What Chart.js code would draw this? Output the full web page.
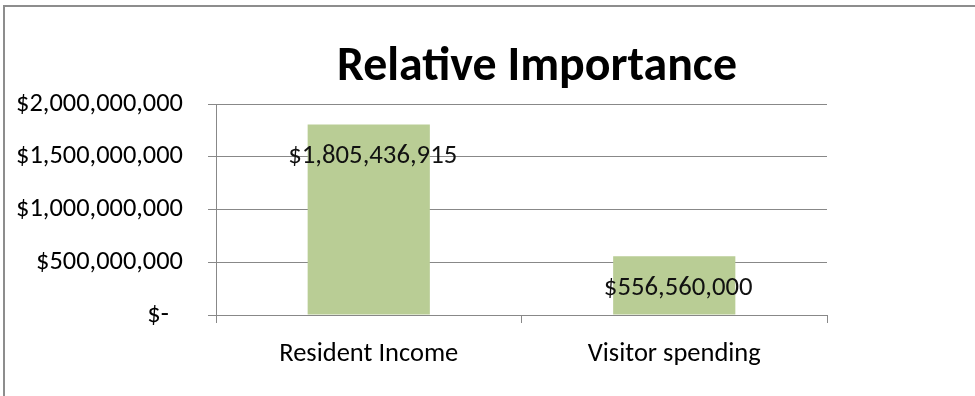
<!DOCTYPE html>
<html>
<head>
<meta charset="utf-8">
<script src="https://cdn.jsdelivr.net/npm/chart.js@4"></script>
<style>
  html, body { margin: 0; padding: 0; background: #ffffff; }
  #wrap { position: relative; width: 975px; height: 396px; overflow: hidden; background: #fff; }
  #frame { position: absolute; left: 3px; top: 5px; width: 1200px; height: 600px;
           border-top: 2px solid #8d8d8d; border-left: 2px solid #8d8d8d; box-sizing: border-box; }
  canvas { position: absolute; left: 0; top: 0; }
</style>
</head>
<body>
<div id="wrap">
  <div id="frame"></div>
  <canvas id="c" width="975" height="396"></canvas>
</div>
<script>
const chartTitle = 'Relative Importance';
const categories = ['Resident Income', 'Visitor spending'];
const values = [1805436915, 556560000];
const valueLabels = ['$1,805,436,915', '$556,560,000'];
const yTickValues = [0, 500000000, 1000000000, 1500000000, 2000000000];
const yTickLabels = ['$-\u2007', '$500,000,000', '$1,000,000,000', '$1,500,000,000', '$2,000,000,000'];

const FONT = 'Carlito, Calibri, Lato, sans-serif';

// pick font sizes so the rendered text widths match the reference widths
const mctx = document.createElement('canvas').getContext('2d');
function fitSize(text, targetWidth, weight) {
  mctx.font = (weight || 'normal') + ' 100px ' + FONT;
  return 100 * targetWidth / mctx.measureText(text).width;
}
const tickSize = fitSize('$2,000,000,000', 167);
const catSize = fitSize('Resident Income', 179);
const valSize = fitSize('$1,805,436,915', 169);
const titleSize = fitSize(chartTitle, 400, 'bold');

const titlePlugin = {
  id: 'excelTitle',
  afterDraw(chart, args, opts) {
    const ctx = chart.ctx;
    ctx.save();
    ctx.font = 'bold ' + opts.size + 'px ' + FONT;
    ctx.fillStyle = '#000';
    ctx.textAlign = 'center';
    ctx.textBaseline = 'alphabetic';
    ctx.fillText(opts.text, opts.x, opts.y);
    ctx.restore();
  }
};

const valueLabelPlugin = {
  id: 'valueLabels',
  afterDatasetsDraw(chart, args, opts) {
    const ctx = chart.ctx;
    const meta = chart.getDatasetMeta(0);
    ctx.save();
    ctx.font = opts.size + 'px ' + FONT;
    ctx.fillStyle = '#111';
    ctx.textAlign = 'center';
    ctx.textBaseline = 'middle';
    meta.data.forEach((bar, i) => {
      ctx.fillText(valueLabels[i], bar.x + opts.dx, bar.y + opts.dy);
    });
    ctx.restore();
  }
};

new Chart(document.getElementById('c'), {
  type: 'bar',
  data: {
    labels: categories,
    datasets: [{
      data: values,
      backgroundColor: '#b9cd95',
      borderWidth: 0,
      barPercentage: 0.4,
      categoryPercentage: 1.0
    }]
  },
  options: {
    responsive: false,
    animation: false,
    events: [],
    layout: { padding: { top: 104, right: 148, bottom: 0, left: 0 } },
    plugins: {
      legend: { display: false },
      title: { display: false },
      tooltip: { enabled: false },
      excelTitle: { text: chartTitle, x: 537, y: 80, size: titleSize },
      valueLabels: { dx: 4, dy: 32, size: valSize }
    },
    scales: {
      x: {
        offset: true,
        grid: { display: true, offset: true, drawOnChartArea: false, drawTicks: true, tickLength: 8, color: '#888', lineWidth: 1 },
        border: { display: true, color: '#888', width: 1 },
        ticks: { color: '#000', font: { family: FONT, size: catSize }, padding: 15, maxRotation: 0, autoSkip: false },
        afterFit(scale) { scale.height = 81; }
      },
      y: {
        min: 0,
        max: 2000000000,
        grid: { color: '#888', lineWidth: 1, drawTicks: true, tickLength: 8 },
        border: { display: true, color: '#888', width: 1 },
        ticks: {
          stepSize: 500000000,
          color: '#000',
          font: { family: FONT, size: tickSize },
          padding: 25,
          callback: (v) => {
            const i = yTickValues.indexOf(v);
            return i >= 0 ? yTickLabels[i] : '';
          }
        },
        afterFit(scale) { scale.width = 216; }
      }
    }
  },
  plugins: [titlePlugin, valueLabelPlugin]
});
</script>
</body>
</html>
